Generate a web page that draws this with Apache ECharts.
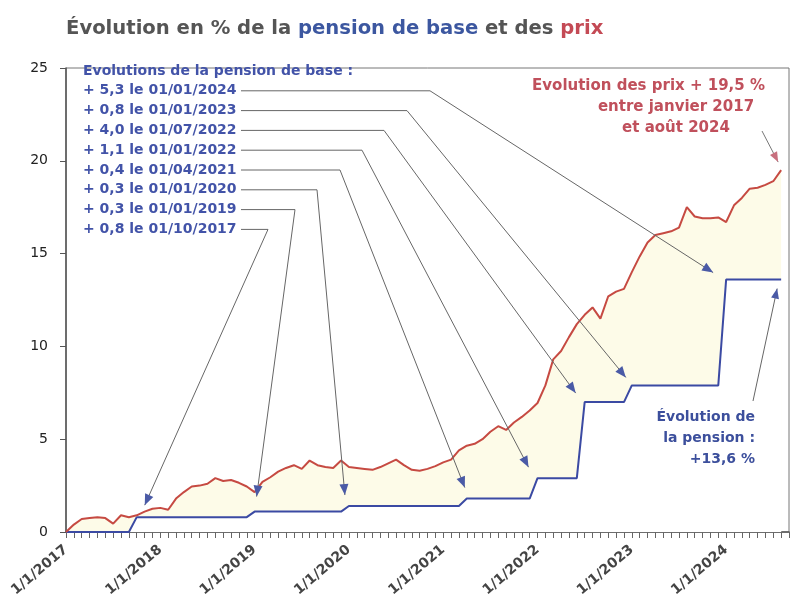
<!DOCTYPE html>
<html>
<head>
<meta charset="utf-8">
<script src="https://cdn.jsdelivr.net/npm/echarts@6/dist/echarts.min.js"></script>
<style>
html,body{margin:0;padding:0;background:#fff}
#main{width:799px;height:603px}
</style>
</head>
<body>
<div id="main"></div>
<script>
// mois de janvier 2017 à septembre 2024
var months = [];
for (var y = 2017; y <= 2024; y++) {
  for (var m = 1; m <= 12; m++) {
    if (y == 2024 && m > 9) break;
    months.push('1/' + m + '/' + y);
  }
}

// évolution des prix en % depuis janvier 2017
var prix = [
  0, 0.4, 0.7, 0.75, 0.8, 0.75, 0.45, 0.9, 0.8, 0.9, 1.1, 1.25,
  1.3, 1.2, 1.8, 2.15, 2.45, 2.5, 2.6, 2.9, 2.75, 2.8, 2.65, 2.45,
  2.15, 2.7, 2.95, 3.25, 3.45, 3.6, 3.4, 3.85, 3.6, 3.5, 3.45, 3.85,
  3.5, 3.45, 3.4, 3.35, 3.5, 3.7, 3.9, 3.6, 3.35, 3.3, 3.4, 3.55,
  3.75, 3.9, 4.4, 4.65, 4.75, 5.0, 5.4, 5.7, 5.5, 5.9, 6.2, 6.55,
  6.95, 7.9, 9.3, 9.75, 10.5, 11.2, 11.7, 12.1, 11.5, 12.7, 12.95, 13.1,
  14.0, 14.85, 15.6, 16.0, 16.1, 16.2, 16.4, 17.5, 17.0, 16.9, 16.9, 16.95,
  16.7, 17.6, 18.0, 18.5, 18.55, 18.7, 18.9, 19.5
];

// évolution de la pension de base en %
var pension = [
  0, 0, 0, 0, 0, 0, 0, 0, 0, 0.8, 0.8, 0.8,
  0.8, 0.8, 0.8, 0.8, 0.8, 0.8, 0.8, 0.8, 0.8, 0.8, 0.8, 0.8,
  1.1, 1.1, 1.1, 1.1, 1.1, 1.1, 1.1, 1.1, 1.1, 1.1, 1.1, 1.1,
  1.4, 1.4, 1.4, 1.4, 1.4, 1.4, 1.4, 1.4, 1.4, 1.4, 1.4, 1.4,
  1.4, 1.4, 1.4, 1.8, 1.8, 1.8, 1.8, 1.8, 1.8, 1.8, 1.8, 1.8,
  2.9, 2.9, 2.9, 2.9, 2.9, 2.9, 7.0, 7.0, 7.0, 7.0, 7.0, 7.0,
  7.9, 7.9, 7.9, 7.9, 7.9, 7.9, 7.9, 7.9, 7.9, 7.9, 7.9, 7.9,
  13.6, 13.6, 13.6, 13.6, 13.6, 13.6, 13.6, 13.6
];

var yTicks = [0, 5, 10, 15, 20, 25];

var stepLabels = [
  '+ 5,3 le 01/01/2024',
  '+ 0,8 le 01/01/2023',
  '+ 4,0 le 01/07/2022',
  '+ 1,1 le 01/01/2022',
  '+ 0,4 le 01/04/2021',
  '+ 0,3 le 01/01/2020',
  '+ 0,3 le 01/01/2019',
  '+ 0,8 le 01/10/2017'
];
var stepMonths = ['1/1/2024', '1/1/2023', '1/7/2022', '1/1/2022', '1/4/2021', '1/1/2020', '1/1/2019', '1/10/2017'];

var BLUE = '#3b4aa3';
var RED = '#c64a42';
var GREY = '#555';
var FONT = 'DejaVu Sans';

var myChart = echarts.init(document.getElementById('main'));

myChart.setOption({
  animation: false,
  grid: {
    left: 66, right: 10, top: 68, bottom: 71,
    show: true, borderColor: '#777', borderWidth: 1, backgroundColor: 'transparent'
  },
  xAxis: {
    type: 'category',
    data: months,
    boundaryGap: false,
    axisLine: { lineStyle: { color: '#555', width: 1.5 } },
    axisTick: { interval: 0, length: 6, lineStyle: { color: '#666' } },
    axisLabel: {
      interval: 11, rotate: 40, margin: 16,
      color: '#444', fontSize: 14, fontWeight: 'bold', fontFamily: FONT
    },
    splitLine: { show: false }
  },
  yAxis: {
    type: 'value',
    min: yTicks[0], max: yTicks[yTicks.length - 1], interval: 5,
    axisLine: { show: true, lineStyle: { color: '#555', width: 1.5 } },
    axisTick: { show: true, length: 6, lineStyle: { color: '#555' } },
    axisLabel: { color: '#222', fontSize: 14, margin: 18, fontFamily: FONT },
    splitLine: { show: false }
  },
  series: [
    {
      // fond jaune sous la courbe des prix
      type: 'line', data: prix, symbol: 'none', silent: true,
      lineStyle: { width: 0 },
      areaStyle: { color: '#fdfbe8', opacity: 1 }
    },
    {
      name: 'pension', type: 'line', data: pension, symbol: 'none',
      lineStyle: { color: BLUE, width: 2 },
      areaStyle: { color: '#ffffff', opacity: 1 }
    },
    {
      name: 'prix', type: 'line', data: prix, symbol: 'none',
      lineStyle: { color: RED, width: 2 }
    }
  ]
});

// flèches et annotations
function arrowHead(from, tip, color, len, half) {
  var dx = tip[0] - from[0], dy = tip[1] - from[1];
  var d = Math.sqrt(dx * dx + dy * dy);
  dx /= d; dy /= d;
  var bx = tip[0] - dx * len, by = tip[1] - dy * len;
  return {
    type: 'polygon', z: 20, silent: true,
    shape: { points: [tip, [bx - dy * half, by + dx * half], [bx + dy * half, by - dx * half]] },
    style: { fill: color }
  };
}

var elbowX = [430, 407, 384, 362, 340, 317, 295, 268];
var tipOffset = [[-13, -7], [-6, -8], [-9, -9], [-9, -11], [-2, -11], [-4, -11], [2, -15], [8, -12]];
var lineTop = 71, lineH = 19.8;

var graphics = [];

graphics.push({
  type: 'text', x: 66, y: 29, z: 30,
  style: {
    text: '{g|Évolution en % de la }{b|pension de base}{g| et des }{r|prix}',
    verticalAlign: 'middle',
    rich: {
      g: { fill: GREY, fontSize: 19.6, fontWeight: 'bold', fontFamily: FONT },
      b: { fill: '#3c57a0', fontSize: 19.6, fontWeight: 'bold', fontFamily: FONT },
      r: { fill: '#c44a55', fontSize: 19.6, fontWeight: 'bold', fontFamily: FONT }
    }
  }
});

graphics.push({
  type: 'text', x: 83, y: lineTop - lineH / 2, z: 30,
  style: {
    text: ['Evolutions de la pension de base :'].concat(stepLabels).join('\n'),
    fill: '#4253a8', fontSize: 14, fontWeight: 'bold', fontFamily: FONT,
    lineHeight: lineH, verticalAlign: 'top'
  }
});

for (var k = 0; k < stepLabels.length; k++) {
  var idx = months.indexOf(stepMonths[k]);
  var p = myChart.convertToPixel({ seriesIndex: 1 }, [idx, pension[idx]]);
  var tip = [p[0] + tipOffset[k][0], p[1] + tipOffset[k][1]];
  var ly = lineTop + lineH * (k + 1);
  var elbow = [elbowX[k], ly];
  graphics.push({
    type: 'polyline', z: 15, silent: true,
    shape: { points: [[241, ly], elbow, tip] },
    style: { stroke: '#666', lineWidth: 1, fill: null }
  });
  graphics.push(arrowHead(elbow, tip, '#4a5aa6', 11, 4.5));
}

// annotation prix
graphics.push({
  type: 'text', x: 765, y: 86, z: 30,
  style: {
    text: 'Evolution des prix + 19,5 %', fill: '#c0505c', align: 'right', verticalAlign: 'middle',
    fontSize: 15, fontWeight: 'bold', fontFamily: FONT
  }
});
graphics.push({
  type: 'text', x: 676, y: 97, z: 30,
  style: {
    text: 'entre janvier 2017\net août 2024', fill: '#c0505c', align: 'center', verticalAlign: 'top',
    fontSize: 15, fontWeight: 'bold', fontFamily: FONT, lineHeight: 21
  }
});
var lastP = prix.length - 1;
var pr = myChart.convertToPixel({ seriesIndex: 2 }, [lastP, prix[lastP]]);
var prTip = [pr[0] - 3, pr[1] - 8];
var prFrom = [762, 131];
graphics.push({
  type: 'line', z: 15, silent: true,
  shape: { x1: prFrom[0], y1: prFrom[1], x2: prTip[0], y2: prTip[1] },
  style: { stroke: '#777', lineWidth: 1 }
});
graphics.push(arrowHead(prFrom, prTip, '#c8707e', 10, 4));

// annotation pension
graphics.push({
  type: 'text', x: 755, y: 407, z: 30,
  style: {
    text: 'Évolution de\nla pension :\n+13,6 %', fill: '#3c4f9c', align: 'right', verticalAlign: 'top',
    fontSize: 14, fontWeight: 'bold', fontFamily: FONT, lineHeight: 21
  }
});
var pe = myChart.convertToPixel({ seriesIndex: 1 }, [lastP, pension[lastP]]);
var peTip = [pe[0] - 4, pe[1] + 9];
var peFrom = [753, 401];
graphics.push({
  type: 'line', z: 15, silent: true,
  shape: { x1: peFrom[0], y1: peFrom[1], x2: peTip[0], y2: peTip[1] },
  style: { stroke: '#666', lineWidth: 1 }
});
graphics.push(arrowHead(peFrom, peTip, '#4a5aa6', 10, 4));

myChart.setOption({ graphic: graphics });

window.addEventListener('resize', function () {
  myChart.resize();
});
</script>
</body>
</html>
